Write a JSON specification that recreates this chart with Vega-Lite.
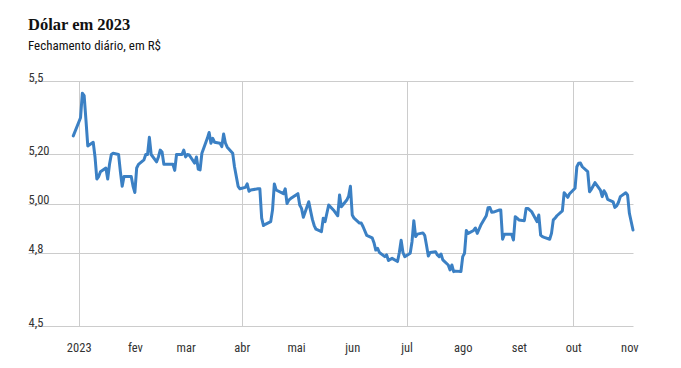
{
  "$schema": "https://vega.github.io/schema/vega-lite/v6.json",
  "width": 605,
  "height": 245,
  "autosize": {"type": "none"},
  "padding": {"left": 28, "top": 81, "right": 48, "bottom": 42},
  "background": "#ffffff",
  "config": {"view": {"stroke": null}},
  "title": {
    "text": "Dólar em 2023",
    "subtitle": "Fechamento diário, em R$",
    "anchor": "start",
    "frame": "group",
    "offset": 18,
    "font": "Liberation Serif",
    "fontSize": 16.5,
    "fontWeight": "bold",
    "color": "#111111",
    "subtitleFont": "Liberation Sans Narrow, Roboto Condensed, DejaVu Sans Condensed, sans-serif",
    "subtitleFontSize": 13,
    "subtitleColor": "#111111",
    "subtitlePadding": 7
  },
  "data": {
    "values": [
      {"date": "2022-12-29", "v": 5.276},
      {"date": "2023-01-02", "v": 5.35}, {"date": "2023-01-03", "v": 5.45}, {"date": "2023-01-04", "v": 5.44}, {"date": "2023-01-05", "v": 5.34}, {"date": "2023-01-06", "v": 5.235},
      {"date": "2023-01-09", "v": 5.25}, {"date": "2023-01-10", "v": 5.19}, {"date": "2023-01-11", "v": 5.10}, {"date": "2023-01-12", "v": 5.11}, {"date": "2023-01-13", "v": 5.13},
      {"date": "2023-01-16", "v": 5.145}, {"date": "2023-01-17", "v": 5.10}, {"date": "2023-01-18", "v": 5.16}, {"date": "2023-01-19", "v": 5.20}, {"date": "2023-01-20", "v": 5.205},
      {"date": "2023-01-23", "v": 5.20}, {"date": "2023-01-24", "v": 5.13}, {"date": "2023-01-25", "v": 5.07}, {"date": "2023-01-26", "v": 5.11}, {"date": "2023-01-27", "v": 5.11},
      {"date": "2023-01-30", "v": 5.11}, {"date": "2023-01-31", "v": 5.07},
      {"date": "2023-02-01", "v": 5.045}, {"date": "2023-02-02", "v": 5.145}, {"date": "2023-02-03", "v": 5.16},
      {"date": "2023-02-06", "v": 5.178}, {"date": "2023-02-07", "v": 5.20}, {"date": "2023-02-08", "v": 5.20}, {"date": "2023-02-09", "v": 5.27}, {"date": "2023-02-10", "v": 5.20},
      {"date": "2023-02-13", "v": 5.17}, {"date": "2023-02-14", "v": 5.19}, {"date": "2023-02-15", "v": 5.218}, {"date": "2023-02-16", "v": 5.21}, {"date": "2023-02-17", "v": 5.16},
      {"date": "2023-02-22", "v": 5.16}, {"date": "2023-02-23", "v": 5.135}, {"date": "2023-02-24", "v": 5.20},
      {"date": "2023-02-27", "v": 5.20}, {"date": "2023-02-28", "v": 5.218},
      {"date": "2023-03-01", "v": 5.19}, {"date": "2023-03-02", "v": 5.20}, {"date": "2023-03-03", "v": 5.198},
      {"date": "2023-03-06", "v": 5.165}, {"date": "2023-03-07", "v": 5.19}, {"date": "2023-03-08", "v": 5.14}, {"date": "2023-03-09", "v": 5.137}, {"date": "2023-03-10", "v": 5.205},
      {"date": "2023-03-13", "v": 5.266}, {"date": "2023-03-14", "v": 5.29}, {"date": "2023-03-15", "v": 5.246}, {"date": "2023-03-16", "v": 5.266}, {"date": "2023-03-17", "v": 5.25},
      {"date": "2023-03-20", "v": 5.246}, {"date": "2023-03-21", "v": 5.232}, {"date": "2023-03-22", "v": 5.284}, {"date": "2023-03-23", "v": 5.246}, {"date": "2023-03-24", "v": 5.23},
      {"date": "2023-03-27", "v": 5.205}, {"date": "2023-03-28", "v": 5.15}, {"date": "2023-03-29", "v": 5.11}, {"date": "2023-03-30", "v": 5.07}, {"date": "2023-03-31", "v": 5.06},
      {"date": "2023-04-03", "v": 5.066}, {"date": "2023-04-04", "v": 5.08}, {"date": "2023-04-05", "v": 5.05}, {"date": "2023-04-06", "v": 5.055},
      {"date": "2023-04-10", "v": 5.06}, {"date": "2023-04-11", "v": 5.06}, {"date": "2023-04-12", "v": 4.94}, {"date": "2023-04-13", "v": 4.91}, {"date": "2023-04-14", "v": 4.915},
      {"date": "2023-04-17", "v": 4.926}, {"date": "2023-04-18", "v": 4.974}, {"date": "2023-04-19", "v": 5.08}, {"date": "2023-04-20", "v": 5.055},
      {"date": "2023-04-24", "v": 5.04}, {"date": "2023-04-25", "v": 5.06}, {"date": "2023-04-26", "v": 5.0}, {"date": "2023-04-27", "v": 5.014}, {"date": "2023-04-28", "v": 5.02},
      {"date": "2023-05-02", "v": 5.04}, {"date": "2023-05-03", "v": 4.994}, {"date": "2023-05-04", "v": 4.98}, {"date": "2023-05-05", "v": 4.944},
      {"date": "2023-05-08", "v": 5.007}, {"date": "2023-05-09", "v": 4.97}, {"date": "2023-05-10", "v": 4.935}, {"date": "2023-05-11", "v": 4.91}, {"date": "2023-05-12", "v": 4.895},
      {"date": "2023-05-15", "v": 4.885}, {"date": "2023-05-16", "v": 4.94}, {"date": "2023-05-17", "v": 4.926}, {"date": "2023-05-18", "v": 4.96}, {"date": "2023-05-19", "v": 4.994},
      {"date": "2023-05-22", "v": 4.97}, {"date": "2023-05-23", "v": 4.96}, {"date": "2023-05-24", "v": 4.95}, {"date": "2023-05-25", "v": 5.035}, {"date": "2023-05-26", "v": 4.987},
      {"date": "2023-05-29", "v": 5.014}, {"date": "2023-05-30", "v": 5.03}, {"date": "2023-05-31", "v": 5.07},
      {"date": "2023-06-01", "v": 4.953}, {"date": "2023-06-02", "v": 4.94},
      {"date": "2023-06-05", "v": 4.92}, {"date": "2023-06-06", "v": 4.92}, {"date": "2023-06-07", "v": 4.905}, {"date": "2023-06-09", "v": 4.87},
      {"date": "2023-06-12", "v": 4.86}, {"date": "2023-06-13", "v": 4.84}, {"date": "2023-06-14", "v": 4.81}, {"date": "2023-06-15", "v": 4.817}, {"date": "2023-06-16", "v": 4.80},
      {"date": "2023-06-19", "v": 4.783}, {"date": "2023-06-20", "v": 4.79}, {"date": "2023-06-21", "v": 4.767}, {"date": "2023-06-22", "v": 4.772}, {"date": "2023-06-23", "v": 4.776},
      {"date": "2023-06-26", "v": 4.763}, {"date": "2023-06-27", "v": 4.80}, {"date": "2023-06-28", "v": 4.85}, {"date": "2023-06-29", "v": 4.80}, {"date": "2023-06-30", "v": 4.783},
      {"date": "2023-07-03", "v": 4.797}, {"date": "2023-07-04", "v": 4.844}, {"date": "2023-07-05", "v": 4.93}, {"date": "2023-07-06", "v": 4.865}, {"date": "2023-07-07", "v": 4.875},
      {"date": "2023-07-10", "v": 4.88}, {"date": "2023-07-11", "v": 4.87}, {"date": "2023-07-12", "v": 4.83}, {"date": "2023-07-13", "v": 4.786}, {"date": "2023-07-14", "v": 4.80},
      {"date": "2023-07-17", "v": 4.803}, {"date": "2023-07-18", "v": 4.79}, {"date": "2023-07-19", "v": 4.783}, {"date": "2023-07-20", "v": 4.794}, {"date": "2023-07-21", "v": 4.77},
      {"date": "2023-07-24", "v": 4.749}, {"date": "2023-07-25", "v": 4.729}, {"date": "2023-07-26", "v": 4.749}, {"date": "2023-07-27", "v": 4.722}, {"date": "2023-07-28", "v": 4.724},
      {"date": "2023-07-31", "v": 4.722},
      {"date": "2023-08-01", "v": 4.783}, {"date": "2023-08-02", "v": 4.797}, {"date": "2023-08-03", "v": 4.89}, {"date": "2023-08-04", "v": 4.878},
      {"date": "2023-08-07", "v": 4.89}, {"date": "2023-08-08", "v": 4.90}, {"date": "2023-08-09", "v": 4.878}, {"date": "2023-08-10", "v": 4.895}, {"date": "2023-08-11", "v": 4.912},
      {"date": "2023-08-14", "v": 4.95}, {"date": "2023-08-15", "v": 4.983}, {"date": "2023-08-16", "v": 4.984}, {"date": "2023-08-17", "v": 4.964}, {"date": "2023-08-18", "v": 4.965},
      {"date": "2023-08-21", "v": 4.973}, {"date": "2023-08-22", "v": 4.973}, {"date": "2023-08-23", "v": 4.854}, {"date": "2023-08-24", "v": 4.874}, {"date": "2023-08-25", "v": 4.874},
      {"date": "2023-08-28", "v": 4.874}, {"date": "2023-08-29", "v": 4.851}, {"date": "2023-08-30", "v": 4.946}, {"date": "2023-08-31", "v": 4.94},
      {"date": "2023-09-01", "v": 4.933},
      {"date": "2023-09-04", "v": 4.93}, {"date": "2023-09-05", "v": 4.98}, {"date": "2023-09-06", "v": 4.98}, {"date": "2023-09-08", "v": 4.967},
      {"date": "2023-09-11", "v": 4.926}, {"date": "2023-09-12", "v": 4.953}, {"date": "2023-09-13", "v": 4.871}, {"date": "2023-09-14", "v": 4.865}, {"date": "2023-09-15", "v": 4.862},
      {"date": "2023-09-18", "v": 4.854}, {"date": "2023-09-19", "v": 4.878}, {"date": "2023-09-20", "v": 4.933}, {"date": "2023-09-21", "v": 4.94}, {"date": "2023-09-22", "v": 4.95},
      {"date": "2023-09-25", "v": 4.97}, {"date": "2023-09-26", "v": 5.044}, {"date": "2023-09-27", "v": 5.035}, {"date": "2023-09-28", "v": 5.025}, {"date": "2023-09-29", "v": 5.04},
      {"date": "2023-10-02", "v": 5.062}, {"date": "2023-10-03", "v": 5.15}, {"date": "2023-10-04", "v": 5.164}, {"date": "2023-10-05", "v": 5.165}, {"date": "2023-10-06", "v": 5.15},
      {"date": "2023-10-09", "v": 5.13}, {"date": "2023-10-10", "v": 5.048}, {"date": "2023-10-11", "v": 5.058}, {"date": "2023-10-13", "v": 5.085},
      {"date": "2023-10-16", "v": 5.055}, {"date": "2023-10-17", "v": 5.028}, {"date": "2023-10-18", "v": 5.052}, {"date": "2023-10-19", "v": 5.04}, {"date": "2023-10-20", "v": 5.017},
      {"date": "2023-10-23", "v": 5.007}, {"date": "2023-10-24", "v": 4.984}, {"date": "2023-10-25", "v": 4.99}, {"date": "2023-10-26", "v": 5.005}, {"date": "2023-10-27", "v": 5.028},
      {"date": "2023-10-30", "v": 5.044}, {"date": "2023-10-31", "v": 5.035}, {"date": "2023-11-01", "v": 4.96}, {"date": "2023-11-03", "v": 4.892}
    ]
  },
  "mark": {"type": "line", "color": "#3b80c4", "strokeWidth": 3, "strokeJoin": "round", "strokeCap": "round"},
  "encoding": {
    "x": {
      "field": "date",
      "type": "temporal",
      "scale": {"type": "utc", "domain": [{"year": 2022, "month": 12, "date": 4, "utc": true}, {"year": 2023, "month": 11, "date": 3, "utc": true}]},
      "axis": {
        "title": null,
        "values": [
          {"year": 2023, "month": 1, "date": 1, "utc": true}, {"year": 2023, "month": 2, "date": 1, "utc": true},
          {"year": 2023, "month": 3, "date": 1, "utc": true}, {"year": 2023, "month": 4, "date": 1, "utc": true},
          {"year": 2023, "month": 5, "date": 1, "utc": true}, {"year": 2023, "month": 6, "date": 1, "utc": true},
          {"year": 2023, "month": 7, "date": 1, "utc": true}, {"year": 2023, "month": 8, "date": 1, "utc": true},
          {"year": 2023, "month": 9, "date": 1, "utc": true}, {"year": 2023, "month": 10, "date": 1, "utc": true},
          {"year": 2023, "month": 11, "date": 1, "utc": true}
        ],
        "labelExpr": "utcmonth(datum.value) == 0 ? '2023' : ['jan','fev','mar','abr','mai','jun','jul','ago','set','out','nov','dez'][utcmonth(datum.value)]",
        "grid": true,
        "gridColor": "#cccccc",
        "gridWidth": 1,
        "gridOpacity": {"condition": {"test": "utcmonth(datum.value) % 3 == 0", "value": 1}, "value": 0},
        "domain": false,
        "ticks": false,
        "tickSize": 0,
        "labelPadding": 15,
        "labelFont": "Liberation Sans Narrow, Roboto Condensed, DejaVu Sans Condensed, sans-serif",
        "labelFontSize": 12.5,
        "labelColor": "#333333",
        "labelFlush": false,
        "labelOverlap": false
      }
    },
    "y": {
      "field": "v",
      "type": "quantitative",
      "scale": {"domain": [4.5, 5.5], "nice": false, "zero": false},
      "axis": {
        "title": null,
        "values": [4.5, 4.8, 5.0, 5.2, 5.5],
        "labelExpr": "datum.value == 4.5 ? '4,5' : datum.value == 4.8 ? '4,8' : datum.value == 5 ? '5,00' : datum.value == 5.2 ? '5,20' : '5,5'",
        "grid": true,
        "gridColor": "#cccccc",
        "gridWidth": 1,
        "domain": false,
        "ticks": false,
        "tickSize": 0,
        "labelPadding": 0,
        "labelAlign": "left",
        "labelBaseline": "alphabetic",
        "labelDx": 2,
        "labelDy": -4,
        "labelFont": "Liberation Sans Narrow, Roboto Condensed, DejaVu Sans Condensed, sans-serif",
        "labelFontSize": 12.5,
        "labelColor": "#333333",
        "labelFlush": false,
        "labelOverlap": false
      }
    }
  }
}
